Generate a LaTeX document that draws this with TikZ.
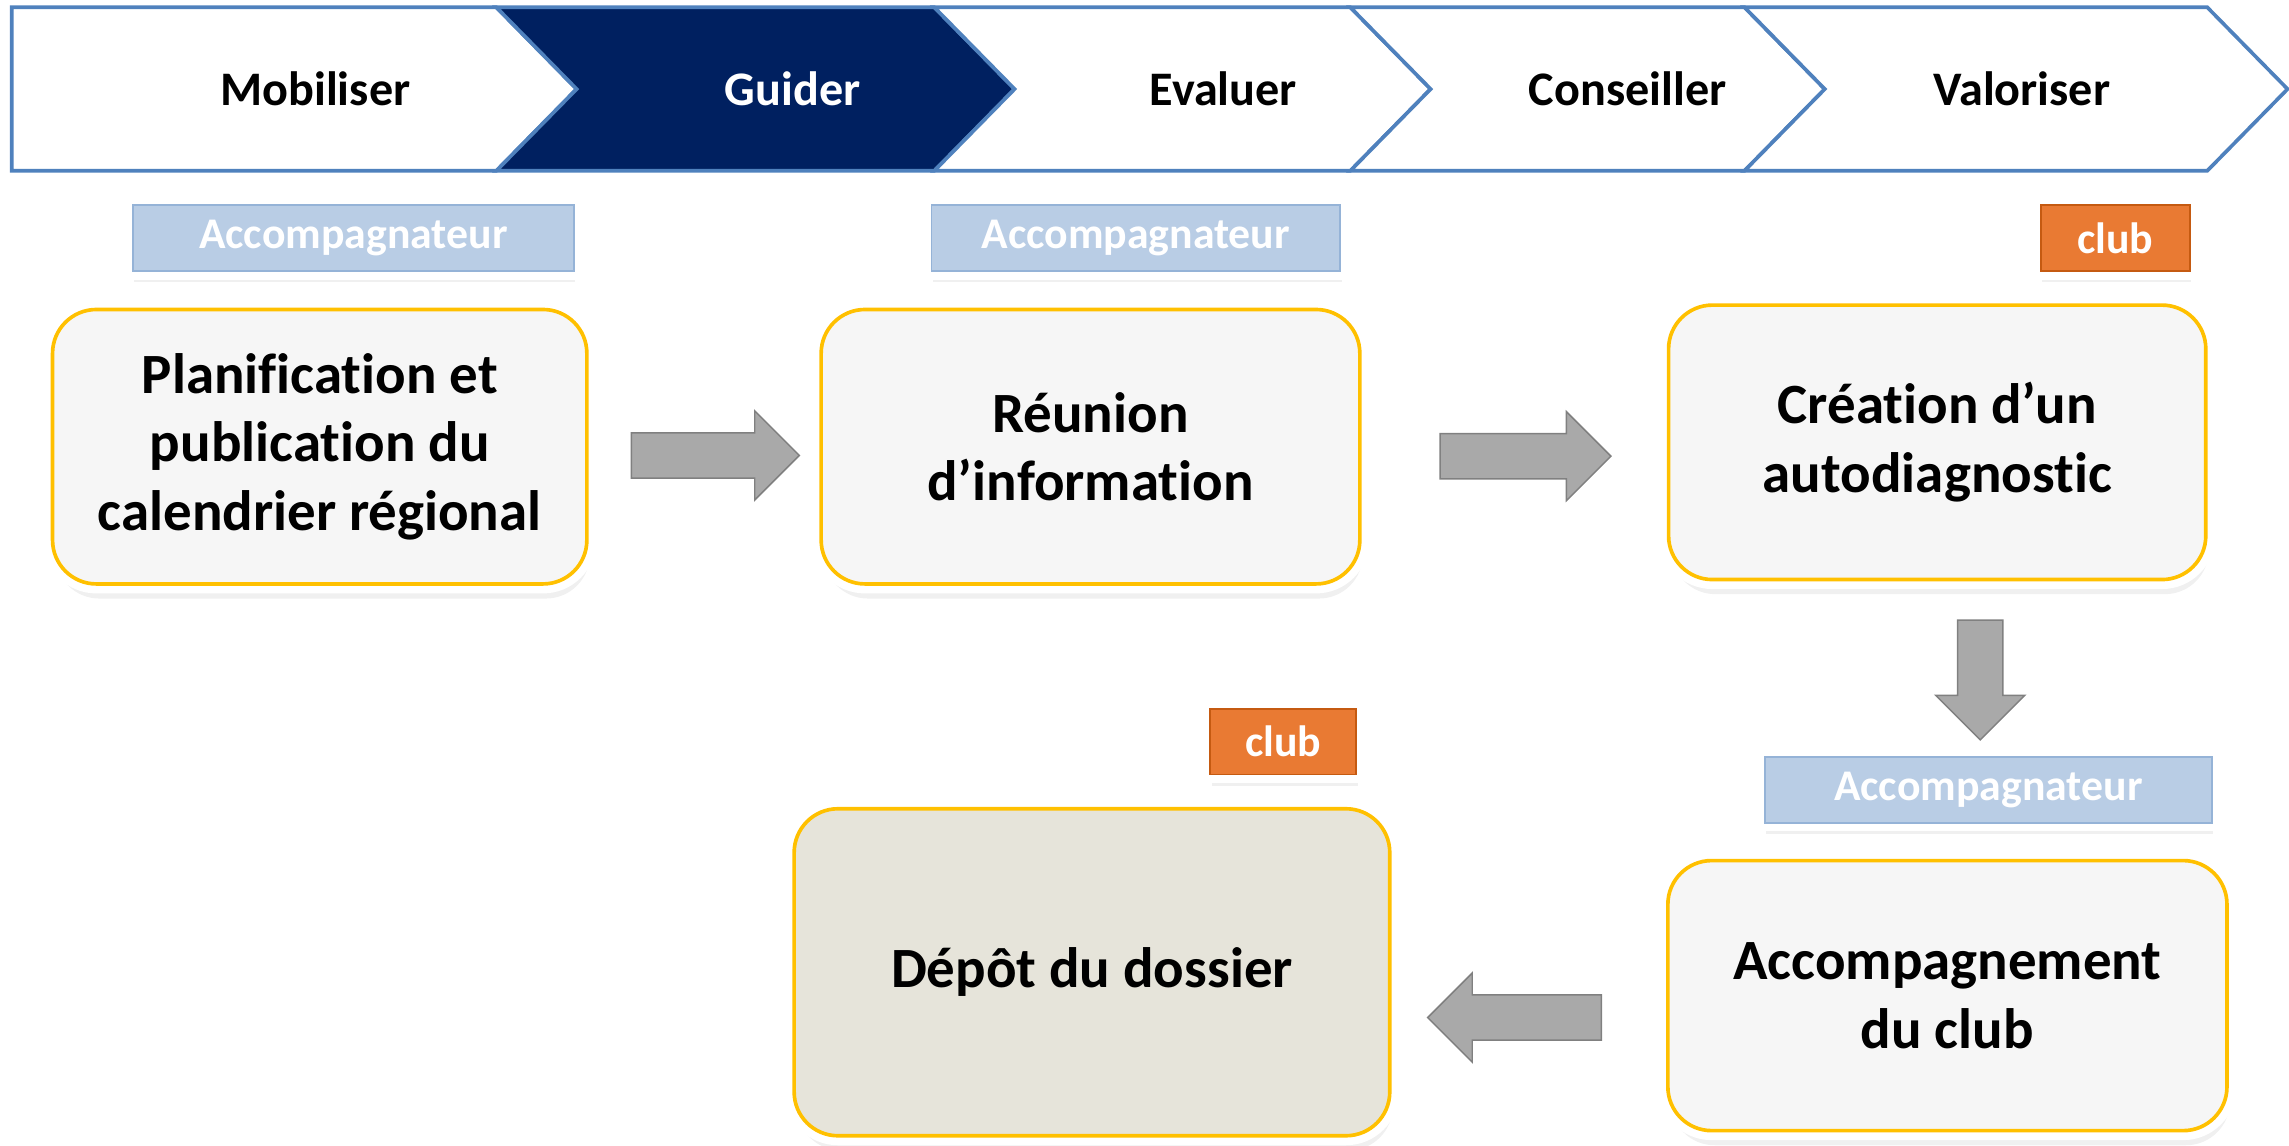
\documentclass[tikz,border=0pt]{standalone}
\usepackage{fontspec}
\setmainfont{Carlito}[Ligatures=CommonOff]
\usetikzlibrary{shapes.arrows,shadows}

\definecolor{chevline}{HTML}{4F81BD}
\definecolor{navy}{HTML}{002060}
\definecolor{boxfill}{HTML}{F6F6F6}
\definecolor{depotfill}{HTML}{E6E4DA}
\definecolor{goldline}{HTML}{FFC000}
\definecolor{rolefill}{HTML}{B9CDE5}
\definecolor{roleline}{HTML}{95B3D7}
\definecolor{clubfill}{HTML}{E97A33}
\definecolor{clubline}{HTML}{C55A11}
\definecolor{arrowfill}{HTML}{A9A9A9}
\definecolor{arrowline}{HTML}{808080}

\begin{document}
\begin{tikzpicture}[x=1pt,y=-1pt,
    chev/.style={draw=chevline,line width=2.5pt,line join=miter},
    stepbox/.style={rectangle,rounded corners=30pt,fill=boxfill,draw=goldline,line width=2.5pt,
        drop shadow={opacity=0.12,shadow xshift=2pt,shadow yshift=-10pt},
        preaction={draw=white,line width=13pt},
        align=center,inner sep=0pt,minimum width=368pt,minimum height=188pt,
        font=\fontsize{39}{47}\selectfont\bfseries},
    rolebox/.style={rectangle,fill=rolefill,draw=roleline,line width=1.2pt,
        drop shadow={opacity=0.12,shadow xshift=1pt,shadow yshift=-8pt},
        preaction={draw=white,line width=12pt},
        text=white,inner sep=0pt,minimum height=45pt,
        font=\fontsize{30}{36}\selectfont\bfseries},
    clubbox/.style={rolebox,fill=clubfill,draw=clubline,minimum width=102pt},
    fatarrow/.style={single arrow,fill=arrowfill,draw=arrowline,line width=1pt,
        inner sep=15pt,minimum width=60pt,single arrow head extend=15pt}]
\useasboundingbox (0,0) rectangle (1568,785);

% top bar
\draw[chev,fill=white] (8,5) -- (340,5) -- (395,61) -- (340,117) -- (8,117) -- cycle;
\foreach \l/\r/\c in {340/640/navy,640/925/white,925/1195/white,1195/1512/white}
    \draw[chev,fill=\c] (\l,5) -- (\r,5) -- ({\r+55},61) -- (\r,117) -- (\l,117) -- ({\l+55},61) -- cycle;
\begin{scope}[every node/.style={font=\fontsize{33}{40}\selectfont\bfseries}]
    \node (mob) at (216,61) {Mobiliser};
    \node[text=white] (gui) at (543,61) {Guider};
    \node (eva) at (838,61) {Evaluer};
    \node (con) at (1115,61) {Conseiller};
    \node (val) at (1385,61) {Valoriser};
\end{scope}

% steps
\node[stepbox,minimum width=366pt] (plan) at (219,306) {Planification et\\publication du\\calendrier régional};
\node[stepbox,minimum width=369pt] (reunion) at (747,306) {Réunion\\d’information};
\node[stepbox] (autodiag) at (1327,303) {Création d’un\\autodiagnostic};
\node[stepbox,minimum width=383pt,minimum height=185pt] (accomp) at (1334,682) {Accompagnement\\du club};
\node[stepbox,fill=depotfill,minimum width=408pt,minimum height=224pt] (depot) at (748,666) {Dépôt du dossier};

% who does it
\node[rolebox,minimum width=302pt] (acc1) at (242,163) {Accompagnateur};
\node[rolebox,minimum width=280pt] (acc2) at (778,163) {Accompagnateur};
\node[clubbox] (club3) at (1449,163) {club};
\node[rolebox,minimum width=306pt] (acc4) at (1362,541) {Accompagnateur};
\node[clubbox,minimum width=100pt] (club5) at (879,508) {club};

% arrows
\path (plan) -- node[fatarrow,yshift=-6pt,minimum height=115pt] (arr1) {} (reunion);
\path (reunion) -- node[fatarrow,yshift=-8pt,minimum height=117pt] (arr2) {} (autodiag);
\path (autodiag.south) -- node[fatarrow,shape border rotate=270,xshift=12pt,minimum height=82pt] (arr3) {} (acc4.north);
\path (accomp.west) -- node[fatarrow,shape border rotate=180,yshift=-23pt,xshift=-2pt,minimum height=119pt] (arr4) {} (depot.east);
\end{tikzpicture}
\end{document}
